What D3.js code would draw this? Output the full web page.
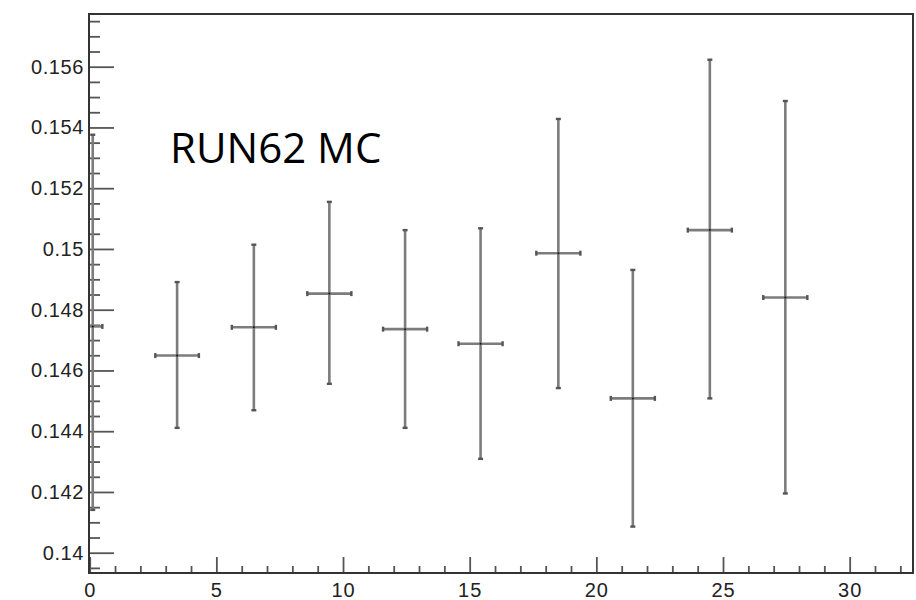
<!DOCTYPE html>
<html>
<head>
<meta charset="utf-8">
<script src="https://cdn.jsdelivr.net/npm/d3@7"></script>
<style>
  body { margin: 0; background: #fff; }
  svg { display: block; }
</style>
</head>
<body>
<div id="chart"></div>
<script>
// bin centres, values and asymmetric errors
const xCenters = [0.12, 3.45, 6.48, 9.46, 12.45, 15.43, 18.5, 21.44, 24.48, 27.46];
const xHalf    = [0.38, 0.86, 0.87, 0.87, 0.87, 0.87, 0.87, 0.87, 0.87, 0.87];
const yValues  = [0.14745, 0.14649, 0.14742, 0.14853, 0.14736, 0.14688, 0.14986, 0.14508, 0.15062, 0.14840];
const yLow     = [0.14141, 0.14411, 0.14469, 0.14556, 0.14411, 0.14309, 0.14542, 0.14086, 0.14508, 0.14195];
const yHigh    = [0.15376, 0.14891, 0.15014, 0.15155, 0.15062, 0.15068, 0.15428, 0.14931, 0.15623, 0.15487];

const xMajorTicks = [0, 5, 10, 15, 20, 25, 30];
const yMajorTicks = [0.14, 0.142, 0.144, 0.146, 0.148, 0.15, 0.152, 0.154, 0.156];
const labelText = "RUN62 MC";

const width = 916, height = 600;
const margin = { left: 89, top: 14, right: 3, bottom: 27 };
const plotW = width - margin.left - margin.right;
const plotH = height - margin.top - margin.bottom;

const x = d3.scaleLinear().domain([0, 32.5]).range([0.7, plotW]);
const y = d3.scaleLinear().domain([0.139332, 0.157735]).range([plotH, 0]);

const svg = d3.select("#chart").append("svg")
  .attr("width", width)
  .attr("height", height);

const g = svg.append("g")
  .attr("transform", "translate(" + margin.left + "," + margin.top + ")");

g.append("clipPath").attr("id", "plot-clip")
  .append("rect").attr("width", plotW).attr("height", plotH);

// minor ticks
const xMinor = d3.range(0, 33, 1).filter(v => v % 5 !== 0);
const yMinor = d3.range(0, 37).map(i => +(0.1395 + i * 0.0005).toFixed(4))
  .filter(v => v <= 0.1577 && !yMajorTicks.some(t => Math.abs(t - v) < 1e-6));

const tickFont = "'Liberation Sans', Arial, Helvetica, sans-serif";

g.append("g")
  .attr("transform", "translate(0," + plotH + ")")
  .call(d3.axisBottom(x).tickValues(xMinor).tickSize(-7).tickFormat(""))
  .call(a => a.select(".domain").remove())
  .call(a => a.selectAll("line").attr("stroke", "#555").attr("stroke-width", 1.8));

g.append("g")
  .attr("transform", "translate(0," + plotH + ")")
  .call(d3.axisBottom(x).tickValues(xMajorTicks).tickSize(-16).tickPadding(10).tickFormat(d3.format("d")))
  .call(a => a.select(".domain").remove())
  .call(a => a.selectAll("line").attr("stroke", "#555").attr("stroke-width", 1.8))
  .call(a => a.selectAll("text")
    .attr("fill", "#222")
    .style("font-family", tickFont)
    .style("font-size", "20px")
    .style("letter-spacing", "1px"));

g.append("g")
  .call(d3.axisLeft(y).tickValues(yMinor).tickSize(-11).tickFormat(""))
  .call(a => a.select(".domain").remove())
  .call(a => a.selectAll("line").attr("stroke", "#555").attr("stroke-width", 1.8));

g.append("g")
  .call(d3.axisLeft(y).tickValues(yMajorTicks).tickSize(-25).tickPadding(5)
    .tickFormat(d => String(+d.toFixed(3))))
  .call(a => a.select(".domain").remove())
  .call(a => a.selectAll("line").attr("stroke", "#555").attr("stroke-width", 1.8))
  .call(a => a.selectAll("text")
    .attr("fill", "#222")
    .style("font-family", tickFont)
    .style("font-size", "20px")
    .style("letter-spacing", "0.6px"));

// data points with error bars
const pts = xCenters.map((xc, i) => ({
  x: xc, dx: xHalf[i], y: yValues[i], lo: yLow[i], hi: yHigh[i]
}));

const marks = g.append("g").attr("clip-path", "url(#plot-clip)");
const barColor = "#7c7c7c";
const capColor = "#555";

const pg = marks.selectAll("g.pt").data(pts).enter().append("g").attr("class", "pt");

pg.append("line")
  .attr("x1", d => x(d.x)).attr("x2", d => x(d.x))
  .attr("y1", d => y(d.hi)).attr("y2", d => y(d.lo))
  .attr("stroke", barColor).attr("stroke-width", 2.6);

pg.append("line")
  .attr("x1", d => x(d.x - d.dx)).attr("x2", d => x(d.x + d.dx))
  .attr("y1", d => y(d.y)).attr("y2", d => y(d.y))
  .attr("stroke", barColor).attr("stroke-width", 2.6);

// end caps
pg.selectAll("line.vcap")
  .data(d => [[d.x, d.hi], [d.x, d.lo]])
  .enter().append("line").attr("class", "vcap")
  .attr("x1", d => x(d[0]) - 2.5).attr("x2", d => x(d[0]) + 2.5)
  .attr("y1", d => y(d[1])).attr("y2", d => y(d[1]))
  .attr("stroke", capColor).attr("stroke-width", 2.4);

pg.selectAll("line.hcap")
  .data(d => [[d.x - d.dx, d.y], [d.x + d.dx, d.y]])
  .enter().append("line").attr("class", "hcap")
  .attr("x1", d => x(d[0])).attr("x2", d => x(d[0]))
  .attr("y1", d => y(d[1]) - 2.5).attr("y2", d => y(d[1]) + 2.5)
  .attr("stroke", capColor).attr("stroke-width", 2.4);

pg.append("circle")
  .attr("cx", d => x(d.x)).attr("cy", d => y(d.y))
  .attr("r", 1).attr("fill", "#111");

// frame
g.append("rect")
  .attr("x", 0).attr("y", 0)
  .attr("width", plotW).attr("height", plotH)
  .attr("fill", "none")
  .attr("stroke", "#333")
  .attr("stroke-width", 2);

svg.append("text")
  .attr("x", 170)
  .attr("y", 163)
  .style("font-family", "'Open Sans', sans-serif")
  .style("font-size", "42px")
  .attr("fill", "#000")
  .text(labelText);
</script>
</body>
</html>
